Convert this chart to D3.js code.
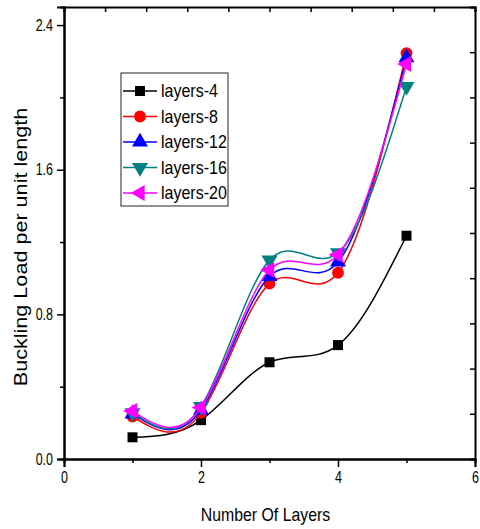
<!DOCTYPE html>
<html>
<head>
<meta charset="utf-8">
<script src="https://cdn.jsdelivr.net/npm/d3@7"></script>
<style>
  body { margin: 0; background: #fff; }
  text { font-family: "Liberation Sans", Arial, sans-serif; }
</style>
</head>
<body>
<svg id="chart" width="480" height="529"></svg>
<script>
const LAYERS = [1, 2, 3, 4, 5];
const SERIES_NAMES = ['layers-4', 'layers-8', 'layers-12', 'layers-16', 'layers-20'];
const LAYERS_4 = [0.12, 0.215, 0.535, 0.63, 1.235];
const LAYERS_8 = [0.235, 0.255, 0.97, 1.03, 2.245];
const LAYERS_12 = [0.25, 0.27, 1.01, 1.09, 2.22];
const LAYERS_16 = [0.255, 0.29, 1.10, 1.14, 2.06];
const LAYERS_20 = [0.265, 0.285, 1.045, 1.13, 2.185];
const X_TICKS = [0, 2, 4, 6];
const Y_TICKS = [0.0, 0.8, 1.6, 2.4];
const COLORS = ['#000000', '#ff0000', '#0000ff', '#008080', '#ff00ff'];
const SYMBOLS = [d3.symbolSquare, d3.symbolCircle, d3.symbolTriangle, d3.symbolTriangle, d3.symbolTriangle];
const ROTATE = [0, 0, 0, 180, -90];

const seriesValues = [LAYERS_4, LAYERS_8, LAYERS_12, LAYERS_16, LAYERS_20];
const series = SERIES_NAMES.map((name, i) => ({
  name,
  color: COLORS[i],
  symbol: SYMBOLS[i],
  rot: ROTATE[i],
  values: LAYERS.map((x, j) => ({ x, y: seriesValues[i][j] }))
}));

const svg = d3.select('#chart');
const margin = { top: 7, right: 5, bottom: 70, left: 64 };
const width = 480 - margin.left - margin.right;
const height = 529 - margin.top - margin.bottom;
const g = svg.append('g').attr('transform', `translate(${margin.left},${margin.top})`);

const x = d3.scaleLinear().domain([0, 6]).range([0, width]);
const y = d3.scaleLinear().domain([0, 2.5]).range([height, 0]);

const symbolPath = s => d3.symbol().type(s).size(s === d3.symbolSquare ? 100 : 110)();

// curves
const line = d3.line()
    .x(d => x(d.x))
    .y(d => y(d.y))
    .curve(d3.curveNatural);

const sg = g.append('g').selectAll('g')
  .data(series)
  .enter().append('g');

sg.append('path')
    .attr('d', d => line(d.values))
    .attr('fill', 'none')
    .attr('stroke', d => d.color)
    .attr('stroke-width', 1.5);

sg.selectAll('path.pt')
  .data(d => d.values.map(v => ({ ...v, s: d })))
  .enter().append('path')
    .attr('class', 'pt')
    .attr('d', d => symbolPath(d.s.symbol))
    .attr('transform', d => `translate(${x(d.x)},${y(d.y)}) rotate(${d.s.rot})`)
    .attr('fill', d => d.s.color);

// bottom axis
const xAxis = g.append('g')
    .attr('transform', `translate(0,${height})`)
    .call(d3.axisBottom(x).tickValues(X_TICKS).tickSize(8).tickFormat(d3.format('d')).tickPadding(4));
xAxis.append('g').call(d3.axisBottom(x).tickValues([1, 3, 5]).tickSize(4).tickFormat(''));

// left axis
const yAxis = g.append('g')
    .call(d3.axisLeft(y).tickValues(Y_TICKS).tickSize(7).tickFormat(d3.format('.1f')).tickPadding(4));
yAxis.append('g').call(d3.axisLeft(y).tickValues([0.4, 1.2, 2.0]).tickSize(4).tickFormat(''));

// top and right axes, ticks inward
g.append('g')
    .call(d3.axisBottom(x).tickValues(d3.range(0, 6.01, 0.6)).tickSize(5).tickFormat(''));
g.append('g')
    .attr('transform', `translate(${width},0)`)
    .call(d3.axisLeft(y).tickValues(d3.range(0, 2.51, 0.25)).tickSize(5).tickFormat(''));

g.selectAll('.domain').attr('stroke-width', 2);
g.selectAll('.tick line').attr('stroke-width', 1.5);

// tick labels look condensed
const SX = 0.78;
xAxis.selectAll('.tick text')
    .attr('font-size', 16)
    .attr('fill', '#000')
    .attr('y', 13)
    .attr('transform', `scale(${SX},1)`);
yAxis.selectAll('.tick text')
    .attr('font-size', 16)
    .attr('fill', '#000')
    .attr('x', -11 / SX)
    .attr('transform', `scale(${SX},1)`);

// axis titles
svg.append('text')
    .attr('transform', `translate(${margin.left + width / 2 - 4},521) scale(0.88,1)`)
    .attr('text-anchor', 'middle')
    .attr('font-size', 18)
    .text('Number Of Layers');

svg.append('text')
    .attr('transform', `translate(27,247) rotate(-90) scale(1.2,1)`)
    .attr('text-anchor', 'middle')
    .attr('font-size', 18)
    .text('Buckling Load per unit length');

// legend
const legend = svg.append('g').attr('transform', 'translate(121,73)');
legend.append('rect')
    .attr('width', 107)
    .attr('height', 133)
    .attr('fill', '#fff')
    .attr('stroke', '#222')
    .attr('stroke-width', 1);

const item = legend.selectAll('g.item')
  .data(series)
  .enter().append('g')
    .attr('class', 'item')
    .attr('transform', (d, i) => `translate(0,${18 + i * 25.5})`);

item.append('line')
    .attr('x1', 2).attr('x2', 36)
    .attr('stroke', d => d.color)
    .attr('stroke-width', 1.5);

item.append('path')
    .attr('d', d => symbolPath(d.symbol))
    .attr('transform', d => `translate(19,0) rotate(${d.rot})`)
    .attr('fill', d => d.color);

item.append('text')
    .attr('transform', 'translate(40,6) scale(0.89,1)')
    .attr('font-size', 18)
    .text(d => d.name);
</script>
</body>
</html>
